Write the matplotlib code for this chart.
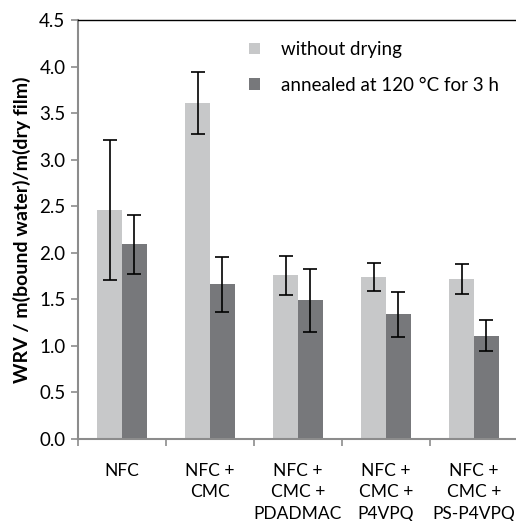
import numpy as np
import matplotlib
matplotlib.use('Agg')
import matplotlib.pyplot as plt

plt.rcParams['font.family'] = ['Lato', 'DejaVu Sans']

categories = ['NFC', 'NFC +\nCMC', 'NFC +\nCMC +\nPDADMAC', 'NFC +\nCMC +\nP4VPQ', 'NFC +\nCMC +\nPS-P4VPQ']
wet = [2.46, 3.61, 1.76, 1.74, 1.72]
wet_err = [0.75, 0.33, 0.21, 0.15, 0.16]
annealed = [2.09, 1.66, 1.49, 1.34, 1.11]
annealed_err = [0.32, 0.30, 0.34, 0.24, 0.17]

LIGHT = '#c7c8c9'
DARK = '#77787b'
AXIS = '#8c8c8c'

fig = plt.figure(figsize=(5.16, 5.21), dpi=100)
ax = fig.add_axes([78 / 516, 1 - 439 / 521, 440 / 516, 419 / 521])

x = np.arange(len(categories))
w = 0.284
ax.bar(x - w / 2, wet, w, color=LIGHT, label='without drying', zorder=2)
ax.bar(x + w / 2, annealed, w, color=DARK, label='annealed at 120 °C for 3 h', zorder=2)
ax.errorbar(x - w / 2, wet, yerr=wet_err, fmt='none', ecolor='black', elinewidth=1.2, capsize=5, capthick=1.2, zorder=3)
ax.errorbar(x + w / 2, annealed, yerr=annealed_err, fmt='none', ecolor='black', elinewidth=1.2, capsize=5, capthick=1.2, zorder=3)

ax.set_xlim(-0.5, len(categories) - 0.5)
ax.set_ylim(0, 4.5)
ax.set_yticks(np.arange(0, 4.51, 0.5))
ax.set_yticklabels([f'{v:.1f}' for v in np.arange(0, 4.51, 0.5)], fontsize=13.5)

# category labels centred, ticks on group boundaries
ax.set_xticks(x)
ax.set_xticklabels(categories, fontsize=12.5, linespacing=1.42, va='top')
ax.tick_params(axis='x', length=0, pad=17)
ax.set_xticks(np.arange(-0.5, len(categories), 1.0), minor=True)
ax.tick_params(axis='x', which='minor', length=5, color=AXIS, width=1.2)
ax.tick_params(axis='y', length=5, color=AXIS, width=1.2, pad=4)

for side in ('left', 'bottom'):
    ax.spines[side].set_color(AXIS)
    ax.spines[side].set_linewidth(1.5)
ax.spines['top'].set_color('black')
ax.spines['top'].set_linewidth(1.0)
ax.spines['right'].set_visible(False)

ax.set_ylabel('WRV / m(bound water)/m(dry film)', fontsize=14, fontweight='bold', labelpad=6)

ax.legend(loc='upper left', bbox_to_anchor=(0.35, 0.99), frameon=False, fontsize=13.5,
          handlelength=0.6, handleheight=0.6, handletextpad=1.1, labelspacing=1.0)

fig.savefig('out.png', dpi=100)
